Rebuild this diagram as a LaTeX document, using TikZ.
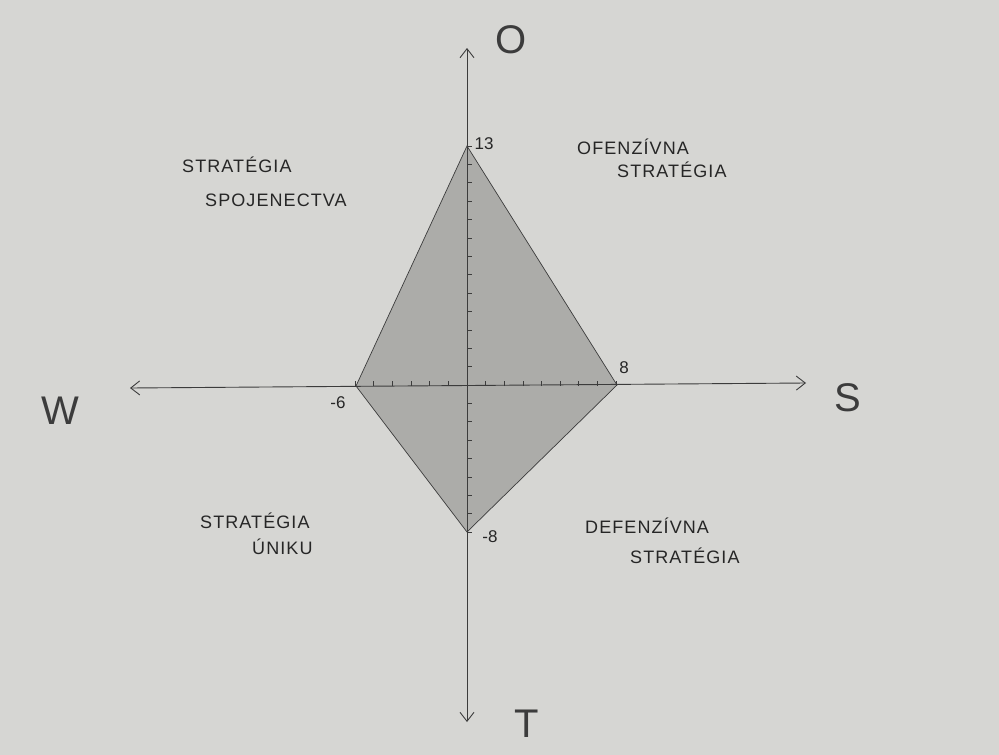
\documentclass[tikz,border=0pt]{standalone}
\usepackage{fontspec}
\setmainfont{Liberation Sans}
\usetikzlibrary{arrows.meta}
\definecolor{paper}{RGB}{214,214,211}
\definecolor{shade}{RGB}{172,172,169}
\definecolor{pencil}{RGB}{60,60,60}
\tikzset{
  axis/.style={draw=pencil, line width=0.9pt, {Straight Barb[length=9pt,width=14pt]}-{Straight Barb[length=9pt,width=14pt]}},
  lbl/.style={font=\fontsize{18}{20}\selectfont\addfontfeature{LetterSpace=6}, text=black!85, inner sep=0pt},
  num/.style={font=\fontsize{17}{19}\selectfont, text=black!85, inner sep=0pt},
  big/.style={font=\fontsize{40}{44}\selectfont, text=pencil, inner sep=0pt},
  tick/.style={draw=pencil, line width=0.7pt}
}
\begin{document}
\begin{tikzpicture}[x=1pt,y=-1pt]
\fill[paper] (0,0) rectangle (999,755);
\useasboundingbox (0,0) rectangle (999,755);
% vertices
\coordinate (top) at (467,146);
\coordinate (rt) at (617,385);
\coordinate (bot) at (467,532);
\coordinate (lt) at (356,386);
\filldraw[fill=shade, draw=pencil, line width=0.7pt] (top) -- (rt) -- (bot) -- (lt) -- cycle;
% axes
\coordinate (wend) at (130,388);
\coordinate (send) at (806,383);
\coordinate (oend) at (467,48);
\coordinate (tend) at (467,722);
\draw[axis] (wend) -- (send);
\draw[axis] (tend) -- (oend);
% ticks
\foreach \i in {-6,...,8} \draw[tick] (467+\i*18.64,386) -- ++(0,-5);
\foreach \j in {-8,...,13} \draw[tick] (467,385-\j*18.38) -- ++(5,0);
% numbers
\node[num] (n13) at (484,144) {13};
\node[num] (n8) at (624,368) {8};
\node[num] (nm6) at (338,403) {-6};
\node[num] (nm8) at (490,537) {-8};
% axis letters
\node[big] (lo) at (511,40) {O};
\node[big] (ls) at (848,398) {S};
\node[big] (lt2) at (527,724) {T};
\node[big] (lw) at (60,411) {W};
% quadrant labels
\node[lbl, anchor=west] (a1) at (182,165) {STRATÉGIA};
\node[lbl, anchor=west] (a2) at (205,200) {SPOJENECTVA};
\node[lbl, anchor=west] (b1) at (577,147) {OFENZÍVNA};
\node[lbl, anchor=west] (b2) at (617,170) {STRATÉGIA};
\node[lbl, anchor=west] (c1) at (200,521) {STRATÉGIA};
\node[lbl, anchor=west] (c2) at (252,547) {ÚNIKU};
\node[lbl, anchor=west] (d1) at (585,526) {DEFENZÍVNA};
\node[lbl, anchor=west] (d2) at (630,556) {STRATÉGIA};
\end{tikzpicture}
\end{document}
